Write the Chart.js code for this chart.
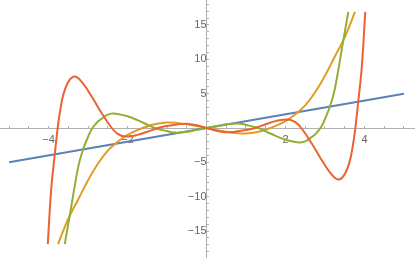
<!DOCTYPE html>
<html>
<head>
<meta charset="utf-8">
<script src="https://cdn.jsdelivr.net/npm/chart.js@4"></script>
<style>
  body { margin: 0; background: #fff; }
</style>
</head>
<body>
<canvas id="plot" width="415" height="258"></canvas>
<script>
// values
const blueX = [-5, 5];
const blueY = [-5, 5];

const orangeX = [-3.76, -3.5, -3.25, -3, -2.75, -2.5, -2.25, -2, -1.75, -1.5, -1.25, -1, -0.75, -0.5, -0.25, 0,
                 0.25, 0.5, 0.75, 1, 1.25, 1.5, 1.75, 2, 2.25, 2.5, 2.75, 3, 3.25, 3.5, 3.76];
const orangeY = [-16.9, -13.2, -10.4, -7.6, -5.2, -3.3, -2.0, -1.0, -0.3, 0.25, 0.62, 0.8, 0.74, 0.55, 0.3, 0,
                 -0.3, -0.55, -0.74, -0.8, -0.62, -0.25, 0.3, 1.0, 2.0, 3.3, 5.2, 7.6, 10.4, 13.2, 16.9];

const greenX = [-3.59, -3.46, -3.25, -3.13, -3, -2.9, -2.75, -2.62, -2.5, -2.37, -2.25, -2, -1.75, -1.5, -1.31, -1, -0.8, -0.5, -0.25, 0,
                0.25, 0.5, 0.8, 1, 1.31, 1.5, 1.75, 2, 2.25, 2.37, 2.5, 2.62, 2.75, 2.9, 3, 3.13, 3.25, 3.46, 3.59];
const greenY = [-16.9, -12.6, -5.7, -3.2, -1.3, -0.1, 0.95, 1.5, 1.95, 2.1, 2.05, 1.7, 1.15, 0.5, 0, -0.45, -0.67, -0.55, -0.27, 0,
                0.27, 0.55, 0.67, 0.45, 0, -0.5, -1.15, -1.7, -2.05, -2.1, -1.95, -1.5, -0.95, 0.1, 1.3, 3.2, 5.7, 12.6, 16.9];

const redX = [-4.02, -3.93, -3.84, -3.77, -3.71, -3.62, -3.48, -3.33, -3.13, -2.9, -2.65, -2.4, -2.25, -2.07, -1.75, -1.5, -1.23, -1, -0.75, -0.5, -0.25, 0,
              0.25, 0.5, 0.75, 1, 1.23, 1.5, 1.75, 2.07, 2.25, 2.4, 2.65, 2.9, 3.13, 3.33, 3.48, 3.62, 3.71, 3.77, 3.84, 3.93, 4.02];
const redY = [-16.9, -8.7, -3.7, 0, 2.4, 5.0, 6.9, 7.5, 6.5, 4.5, 2.1, 0, -0.85, -1.25, -1.0, -0.55, 0, 0.3, 0.52, 0.63, 0.4, 0,
              -0.4, -0.63, -0.52, -0.3, 0, 0.55, 1.0, 1.25, 0.85, 0, -2.1, -4.5, -6.5, -7.5, -6.9, -5.0, -2.4, 0, 3.7, 8.7, 16.9];

const xTickLabels = [-4, -2, 2, 4];
const yTickLabels = [-15, -10, -5, 5, 10, 15];

function pts(xs, ys) {
  return xs.map((x, i) => ({ x: x, y: ys[i] }));
}
function label(v) {
  return v < 0 ? "\u2212" + (-v) : String(v);
}

Chart.defaults.font.family = "'Liberation Sans', Arial, sans-serif";

function line(name, xs, ys, color) {
  return {
    label: name,
    data: pts(xs, ys),
    borderColor: color,
    backgroundColor: color,
    borderWidth: 2,
    pointRadius: 0,
    fill: false,
    tension: 0.4,
  };
}

let ctx = document.getElementById("plot").getContext("2d");
let graf = new Chart(ctx, {
  type: "line",
  data: {
    // red is drawn last in the reference, so it goes first here
    datasets: [
      line("red", redX, redY, "#eb6235"),
      line("green", greenX, greenY, "#8fb032"),
      line("orange", orangeX, orangeY, "#e19c24"),
      line("blue", blueX, blueY, "#5e81b5"),
    ],
  },
  options: {
    responsive: false,
    animation: false,
    layout: { padding: 0 },
    plugins: {
      legend: { display: false },
      tooltip: { enabled: false },
    },
    scales: {
      x: {
        type: "linear",
        min: -5.23,
        max: 5.28,
        position: { y: 0 },
        border: { color: "#b0b0b0", width: 1 },
        grid: { drawOnChartArea: false, color: "#b0b0b0", tickLength: -3 },
        ticks: {
          stepSize: 0.5,
          autoSkip: false,
          includeBounds: false,
          maxRotation: 0,
          padding: 8,
          color: "#666",
          font: { size: 11 },
          callback: (v) => (xTickLabels.includes(v) ? label(v) : ""),
        },
        afterFit: (s) => {
          s.height = 0;
          s.paddingLeft = 0;
          s.paddingRight = 0;
        },
      },
      y: {
        type: "linear",
        min: -18.92,
        max: 18.63,
        position: { x: 0 },
        border: { color: "#b0b0b0", width: 1 },
        grid: { drawOnChartArea: false, color: "#b0b0b0", tickLength: -3 },
        ticks: {
          stepSize: 1,
          autoSkip: false,
          includeBounds: false,
          maxTicksLimit: 100,
          padding: 7,
          color: "#666",
          font: { size: 11 },
          callback: (v) => (yTickLabels.includes(v) ? label(v) : ""),
        },
        afterFit: (s) => {
          s.width = 0;
          s.paddingTop = 0;
          s.paddingBottom = 0;
        },
      },
    },
  },
});
</script>
</body>
</html>
